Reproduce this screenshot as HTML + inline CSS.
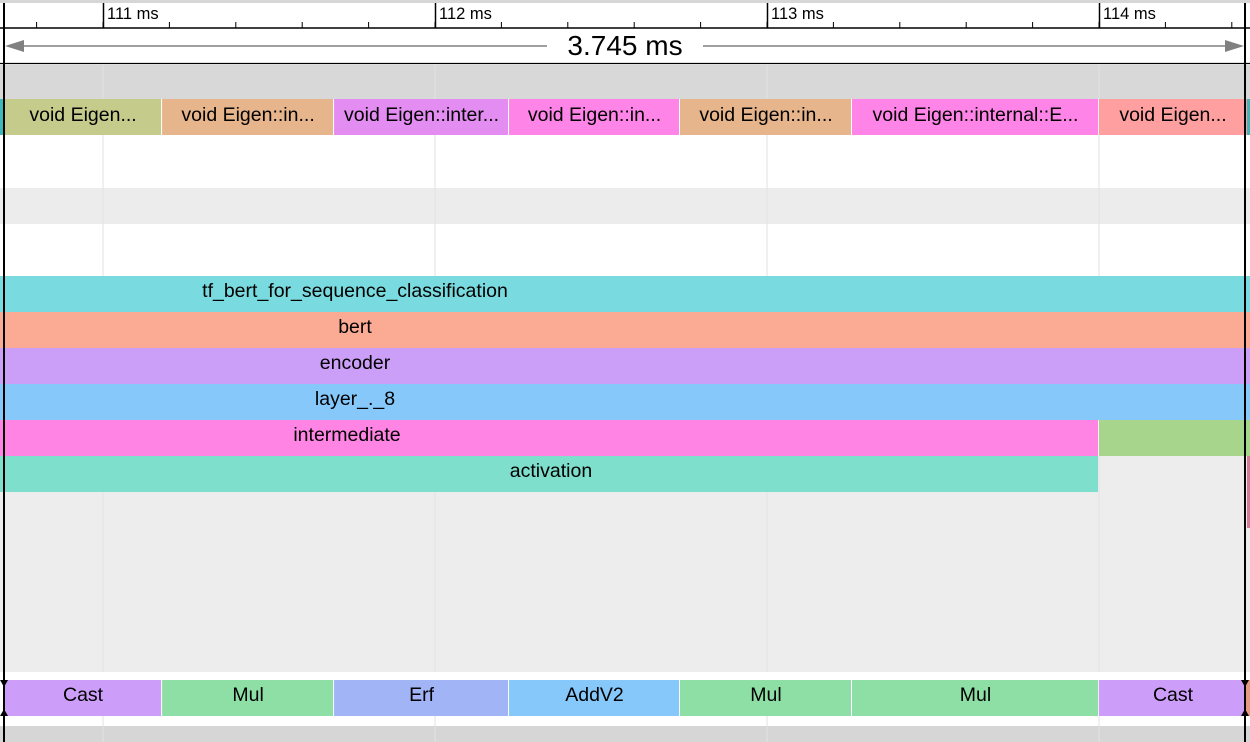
<!DOCTYPE html>
<html><head><meta charset="utf-8"><style>
html,body{margin:0;padding:0;background:#fff}
svg{display:block;font-family:"Liberation Sans",sans-serif}
</style></head><body>
<svg id="c" width="1250" height="742"></svg>
<script>
const NS='http://www.w3.org/2000/svg';
const svg=document.getElementById('c');
// time axis: ms -> px
const t0=111, pxPerMs=332, x0=103;
const X=t=>x0+(t-t0)*pxPerMs;
const tickMs=[111,112,113,114];
const tickLabels=['111 ms','112 ms','113 ms','114 ms'];
const kernelStarts=[110.5,111.178,111.696,112.223,112.738,113.256,114.0];
const kernelEnds=[111.178,111.696,112.223,112.738,113.256,114.0,114.5];
const kernelNames=['void Eigen...','void Eigen::in...','void Eigen::inter...','void Eigen::in...','void Eigen::in...','void Eigen::internal::E...','void Eigen...'];
const kernelColors=['#c5cc8b','#e6b58b','#e38cf1','#ff84e8','#e6b58b','#ff84e8','#ff9f9f'];
const opStarts=[110.5,111.178,111.696,112.223,112.738,113.256,114.0];
const opEnds=[111.178,111.696,112.223,112.738,113.256,114.0,114.44];
const opNames=['Cast','Mul','Erf','AddV2','Mul','Mul','Cast'];
const opColors=['#cc9ef9','#8edfa5','#a1b4f6','#86c8fa','#8edfa5','#8edfa5','#cc9ef9'];
const spanNames=['tf_bert_for_sequence_classification','bert','encoder','layer_._8','intermediate','activation'];
const spanEnds=[114.5,114.5,114.5,114.5,114.0,114.0];
const spanColors=['#79dbdf','#fbaa94','#cb9ef8','#87c8fb','#ff84e4','#7ddfcc'];
const spanLabelX=[355,355,355,355,347,551];

function el(tag,attrs,name,inter){const e=document.createElementNS(NS,tag);for(const k in attrs)e.setAttribute(k,attrs[k]);


svg.appendChild(e);return e;}
function txt(x,y,s,name,size,anchor){const e=el('text',{x:x,y:y,'font-size':size||19.5,'text-anchor':anchor||'middle',fill:'#000'},name,false);e.textContent=s;return e;}

// backgrounds
el('rect',{x:0,y:0,width:1250,height:3,fill:'#d6d6d6'},'top-band',false);
el('rect',{x:0,y:65,width:1250,height:34,fill:'#d8d8d8'},'process-header',false);
el('rect',{x:0,y:188,width:1250,height:36,fill:'#ececec'},'empty-track',false);
el('rect',{x:0,y:456,width:1250,height:216,fill:'#ededed'},'empty-area',false);
el('rect',{x:0,y:726,width:1250,height:16,fill:'#d6d6d6'},'bottom-band',false);
// grid lines
tickMs.forEach((t,i)=>{el('line',{x1:X(t),y1:65,x2:X(t),y2:742,stroke:'#e2e2e2','stroke-width':1},'grid-line',false);});
// kernels
el('rect',{x:0,y:99,width:4,height:36,fill:'#3fb6b8'},'kernel-sliver',false);
kernelNames.forEach((n,i)=>{const a=Math.max(X(kernelStarts[i]),4),b=Math.min(X(kernelEnds[i]),1250);
el('rect',{x:a,y:99,width:b-a-1,height:36,fill:kernelColors[i]},'kernel-slice',true);
txt(i==6?1173:(a+b)/2,121,n,'kernel-label');});
el('rect',{x:1247,y:99,width:3,height:36,fill:'#3fb6b8'},'kernel-sliver-right',false);
// spans
spanNames.forEach((n,i)=>{const y=276+i*36;const b=Math.min(X(spanEnds[i]),1250);
el('rect',{x:0,y:y,width:b-(spanEnds[i]<114.4?1:0),height:36,fill:spanColors[i]},'span-'+n,true);
txt(spanLabelX[i],y+21,n,'span-label');});
el('rect',{x:X(114.0),y:420,width:1250-X(114.0),height:36,fill:'#a8d58c'},'span-next',true);
el('rect',{x:1247,y:456,width:3,height:72,fill:'#d8799a'},'span-sliver',false);
el('rect',{x:0,y:672,width:1250,height:8,fill:'#fff'},'ops-gap',false);
// ops
opNames.forEach((n,i)=>{const a=Math.max(X(opStarts[i]),4),b=Math.min(X(opEnds[i]),1245);
el('rect',{x:a,y:680,width:b-a-1,height:36,fill:opColors[i]},'op-slice',true);
txt(i==6?1173:(a+b)/2,701,n,'op-label');});
el('rect',{x:1246,y:680,width:4,height:36,fill:'#e59a85'},'op-sliver',false);
// ruler
el('rect',{x:0,y:3,width:1250,height:25,fill:'#fff'},'ruler',false);
for(let k=-1;k<18;k++){const x=x0+k*66.4;if(x<4||x>1250)continue;
el('line',{x1:x,y1:22,x2:x,y2:28,stroke:'#000','stroke-width':1},'minor-tick',false);}
tickMs.forEach((t,i)=>{el('line',{x1:X(t)+0.5,y1:3,x2:X(t)+0.5,y2:28,stroke:'#000','stroke-width':1.5},'major-tick',false);
txt(X(t)+4,19,tickLabels[i],'tick-label',16.5,'start');});
el('line',{x1:0,y1:28,x2:1250,y2:28,stroke:'#000','stroke-width':1.5},'ruler-baseline',false);
el('rect',{x:0,y:29,width:1250,height:34,fill:'#fff'},'measure-row',false);
el('line',{x1:0,y1:63.5,x2:1250,y2:63.5,stroke:'#000','stroke-width':1.2},'measure-baseline',false);
el('line',{x1:8,y1:46,x2:547,y2:46,stroke:'#808080','stroke-width':1.5},'measure-line-left',false);
el('line',{x1:703,y1:46,x2:1240,y2:46,stroke:'#808080','stroke-width':1.5},'measure-line-right',false);
el('path',{d:'M5,46 L24,40 L24,52 Z',fill:'#808080'},'arrow-left',false);
el('path',{d:'M1244,46 L1225,40 L1225,52 Z',fill:'#808080'},'arrow-right',false);
txt(625,55,'3.745 ms','duration-label',28);
// selection bounds
el('line',{x1:4,y1:3,x2:4,y2:742,stroke:'#000','stroke-width':2},'selection-left',true);
el('line',{x1:1245,y1:3,x2:1245,y2:742,stroke:'#000','stroke-width':2},'selection-right',true);
[4,1245].forEach(x=>{el('path',{d:`M${x-4},680 L${x+4},680 L${x},687 Z M${x-4},716 L${x+4},716 L${x},709 Z`,fill:'#000'},'selection-handle',true);});
</script>
</body></html>
